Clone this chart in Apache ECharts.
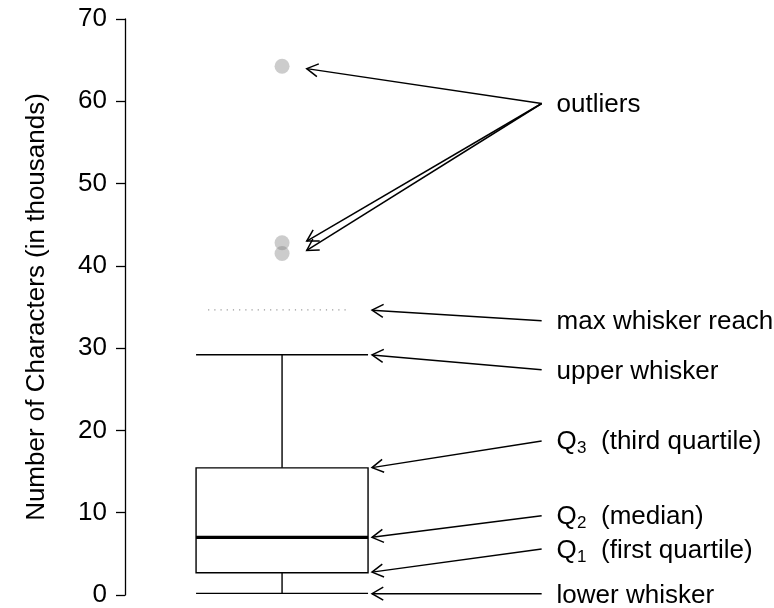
<!DOCTYPE html>
<html>
<head>
<meta charset="utf-8">
<script src="https://cdn.jsdelivr.net/npm/echarts@6/dist/echarts.min.js"></script>
<style>html,body{margin:0;padding:0;background:#fff}#c{width:774px;height:608px}</style>
</head>
<body>
<div id="c"></div>
<script>
// ---- data ----
const yMin = 0, yMax = 70, yStep = 10;
const yTitle = 'Number of Characters (in thousands)';
// lower whisker, Q1, median, Q3, upper whisker
const boxStats = [0.2, 2.7, 7.0, 15.45, 29.2];
const maxWhiskerReach = 34.65;
const outliers = [64.25, 42.8, 41.5];
// annotation labels
const labelMain = ['outliers', 'max whisker reach', 'upper whisker', 'Q', 'Q', 'Q', 'lower whisker'];
const labelSub  = ['', '', '', '3', '2', '1', ''];
const labelRest = ['', '', '', '  (third quartile)', '  (median)', '  (first quartile)', ''];
const labelY    = [59.8, 33.4, 27.4, 18.8, 9.7, 5.6, 0.2];
// arrows (tail near label, head at feature)
const arrowTailY = [59.73, 59.73, 59.73, 33.34, 27.36, 18.71, 9.64, 5.6, 0.16];
const arrowHeadY = [63.97, 43.01, 41.87, 34.62, 29.18, 15.48, 7.01, 2.78, 0.16];

// ---- layout (x in hidden axis units 0..10) ----
const BOX_X = 2.42, BOX_HW = 1.325;
const DOT_X0 = 1.28, DOT_X1 = 3.46;
const TAIL_X = 6.42, HEAD_X_OUT = 2.80, HEAD_X = 3.806, TEXT_X = 6.65;
const TEXT_DY = 2;
const FONT = '"Liberation Sans", Arial, Helvetica, sans-serif';
const FS = 26;

const arrowData = arrowTailY.map((ty, i) => [TAIL_X, ty, i < 3 ? HEAD_X_OUT : HEAD_X, arrowHeadY[i]]);
const labelData = labelY.map((y, i) => [TEXT_X, y, i]);

const chart = echarts.init(document.getElementById('c'), null, {renderer: 'canvas'});
chart.setOption({
  animation: false,
  backgroundColor: '#fff',
  grid: {left: 125, right: 0, top: 19, bottom: 10},
  xAxis: {type: 'value', min: 0, max: 10, show: false},
  yAxis: {
    type: 'value', min: yMin, max: yMax, interval: yStep,
    name: yTitle, nameLocation: 'middle', nameGap: 75, nameRotate: 90,
    nameTextStyle: {fontFamily: FONT, fontSize: FS, color: '#000'},
    axisLine: {show: true, lineStyle: {color: '#000', width: 1.3}},
    axisTick: {show: true, length: 9, lineStyle: {color: '#000', width: 1.3}},
    axisLabel: {fontFamily: FONT, fontSize: FS, color: '#000', margin: 18},
    splitLine: {show: false}
  },
  series: [
    {
      type: 'custom', silent: true,
      data: [[BOX_X].concat(boxStats)],
      renderItem: function (params, api) {
        const c = api.value(0), lw = api.value(1), q1 = api.value(2), md = api.value(3), q3 = api.value(4), uw = api.value(5);
        const P = (x, y) => api.coord([x, y]);
        const L = P(c - BOX_HW, 0)[0], R = P(c + BOX_HW, 0)[0], C = P(c, 0)[0];
        const yq1 = P(c, q1)[1], yq3 = P(c, q3)[1], ymd = P(c, md)[1], ylw = P(c, lw)[1], yuw = P(c, uw)[1];
        const st = {stroke: '#000', lineWidth: 1.4, fill: null};
        return {type: 'group', children: [
          {type: 'rect', shape: {x: L, y: yq3, width: R - L, height: yq1 - yq3}, style: {stroke: '#000', lineWidth: 1.4, fill: 'none'}},
          {type: 'line', shape: {x1: L, y1: ymd, x2: R, y2: ymd}, style: {stroke: '#000', lineWidth: 3.2}},
          {type: 'line', shape: {x1: C, y1: yq3, x2: C, y2: yuw}, style: st},
          {type: 'line', shape: {x1: C, y1: yq1, x2: C, y2: ylw}, style: st},
          {type: 'line', shape: {x1: L, y1: yuw, x2: R, y2: yuw}, style: st},
          {type: 'line', shape: {x1: L, y1: ylw, x2: R, y2: ylw}, style: st}
        ]};
      }
    },
    {
      type: 'custom', silent: true,
      data: [[DOT_X0, DOT_X1, maxWhiskerReach]],
      renderItem: function (params, api) {
        const a = api.coord([api.value(0), api.value(2)]), b = api.coord([api.value(1), api.value(2)]);
        return {type: 'line', shape: {x1: a[0], y1: a[1], x2: b[0], y2: b[1]},
          style: {stroke: '#9a9a9a', lineWidth: 1.2, lineDash: [1.2, 5]}};
      }
    },
    {
      type: 'scatter', silent: true,
      symbol: 'circle', symbolSize: 15,
      itemStyle: {color: 'rgba(128,128,128,0.5)'},
      data: outliers.map(v => [BOX_X, v])
    },
    {
      type: 'custom', silent: true,
      data: arrowData,
      renderItem: function (params, api) {
        const t = api.coord([api.value(0), api.value(1)]), h = api.coord([api.value(2), api.value(3)]);
        const ang = Math.atan2(t[1] - h[1], t[0] - h[0]);
        const len = 13, da = Math.PI / 6;
        const a1 = [h[0] + len * Math.cos(ang + da), h[1] + len * Math.sin(ang + da)];
        const a2 = [h[0] + len * Math.cos(ang - da), h[1] + len * Math.sin(ang - da)];
        const st = {stroke: '#000', lineWidth: 1.5, fill: null};
        return {type: 'group', children: [
          {type: 'line', shape: {x1: t[0], y1: t[1], x2: h[0], y2: h[1]}, style: st},
          {type: 'polyline', shape: {points: [a1, h, a2]}, style: st}
        ]};
      }
    },
    {
      type: 'custom', silent: true,
      data: labelData,
      renderItem: function (params, api) {
        const p = api.coord([api.value(0), api.value(1)]);
        const x = p[0], y = p[1] + TEXT_DY;
        const i = api.value(2);
        const children = [{type: 'text', x: x, y: y, style: {text: labelMain[i], fontFamily: FONT, fontSize: FS, fill: '#000', align: 'left', verticalAlign: 'middle'}}];
        if (labelSub[i]) {
          children.push({type: 'text', x: x + 20.4, y: y + 6, style: {text: labelSub[i], fontFamily: FONT, fontSize: 17, fill: '#000', align: 'left', verticalAlign: 'middle'}});
          children.push({type: 'text', x: x + 30, y: y, style: {text: labelRest[i], fontFamily: FONT, fontSize: FS, fill: '#000', align: 'left', verticalAlign: 'middle'}});
        }
        return {type: 'group', children: children};
      }
    }
  ]
});
</script>
</body>
</html>
